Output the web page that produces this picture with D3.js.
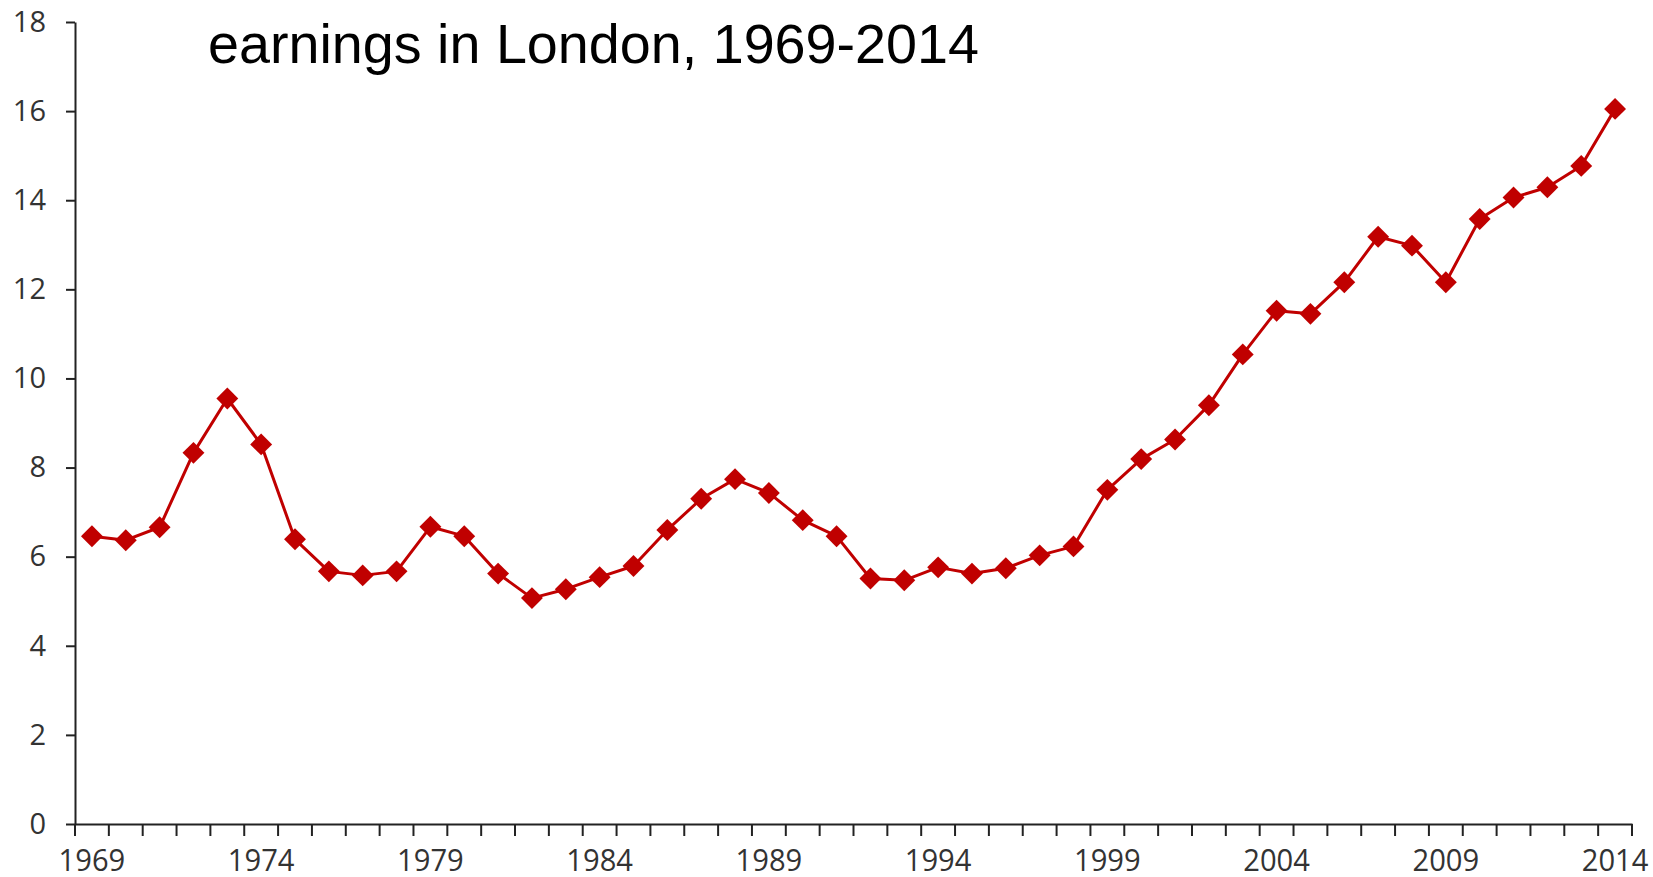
<!DOCTYPE html>
<html>
<head>
<meta charset="utf-8">
<script src="https://cdn.jsdelivr.net/npm/d3@7/dist/d3.min.js"></script>
<style>
  html, body { margin: 0; padding: 0; background: #fff; }
  svg { display: block; }
</style>
</head>
<body>
<svg id="chart" width="1653" height="877"></svg>
<script>
const years = d3.range(1969, 2015);
const ratio = [
  6.46, 6.37, 6.66, 8.33, 9.55, 8.52, 6.39, 5.67, 5.58, 5.67,
  6.67, 6.46, 5.62, 5.07, 5.27, 5.54, 5.79, 6.60, 7.30, 7.74,
  7.43, 6.82, 6.46, 5.51, 5.47, 5.76, 5.62, 5.74, 6.03, 6.23,
  7.50, 8.19, 8.63, 9.40, 10.54, 11.52, 11.45, 12.16, 13.18, 12.98,
  12.16, 13.58, 14.06, 14.29, 14.77, 16.05
];
const yTicks = [0, 2, 4, 6, 8, 10, 12, 14, 16, 18];
const xLabels = [1969, 1974, 1979, 1984, 1989, 1994, 1999, 2004, 2009, 2014];
const titleLines = ["earnings in London, 1969-2014"];

const svg = d3.select("#chart");
const mLeft = 75, mRight = 1632, mTop = 22, mBottom = 824;

const x = d3.scaleBand().domain(years).range([mLeft, mRight]).paddingInner(0).paddingOuter(0);
const y = d3.scaleLinear().domain([0, 18]).range([mBottom, mTop]);
const cx = d => x(d) + x.bandwidth() / 2;

const axisColor = "#222";
const textColor = "#333";
const font = "'Open Sans', 'Noto Sans', sans-serif";

// Y axis
const yAxis = svg.append("g")
  .attr("transform", `translate(${mLeft},0)`)
  .call(d3.axisLeft(y).tickValues(yTicks).tickSize(9).tickPadding(20).tickSizeOuter(0));
yAxis.select(".domain").attr("stroke", axisColor).attr("stroke-width", 2);
yAxis.selectAll(".tick line").attr("stroke", axisColor).attr("stroke-width", 2);
yAxis.selectAll(".tick text")
  .attr("font-family", font).attr("font-size", 29).attr("fill", textColor);

// X axis labels (centered in category bands)
const xAxis = svg.append("g")
  .attr("transform", `translate(0,${mBottom})`)
  .call(d3.axisBottom(x).tickValues(xLabels).tickSize(0).tickPadding(25).tickSizeOuter(0));
xAxis.select(".domain").attr("stroke", axisColor).attr("stroke-width", 2);
xAxis.selectAll(".tick line").remove();
xAxis.selectAll(".tick text")
  .attr("font-family", font).attr("font-size", 31).attr("fill", textColor)
  .attr("transform", "scale(0.94,1)");

// X boundary ticks
const bounds = years.map(d => x(d)).concat([x(years[years.length - 1]) + x.bandwidth()]);
svg.append("g").selectAll("line").data(bounds).join("line")
  .attr("x1", d => d).attr("x2", d => d)
  .attr("y1", mBottom).attr("y2", mBottom + 12)
  .attr("stroke", axisColor).attr("stroke-width", 2);

// Line
const line = d3.line().x((d, i) => cx(years[i])).y(d => y(d));
svg.append("path").datum(ratio)
  .attr("d", line)
  .attr("fill", "none")
  .attr("stroke", "#C00000")
  .attr("stroke-width", 3)
  .attr("stroke-linejoin", "round");

// Diamond markers
const sym = d3.symbol().type(d3.symbolSquare).size(240);
svg.append("g").selectAll("path").data(ratio).join("path")
  .attr("d", sym)
  .attr("transform", (d, i) => `translate(${cx(years[i])},${y(d)}) rotate(45)`)
  .attr("fill", "#C00000");

// Title
svg.append("g").selectAll("text").data(titleLines).join("text")
  .attr("x", 208).attr("y", (d, i) => 63 + i * 60)
  .attr("font-family", "'Liberation Sans', Arial, sans-serif")
  .attr("font-size", 55.7)
  .attr("fill", "#000")
  .text(d => d);
</script>
</body>
</html>
